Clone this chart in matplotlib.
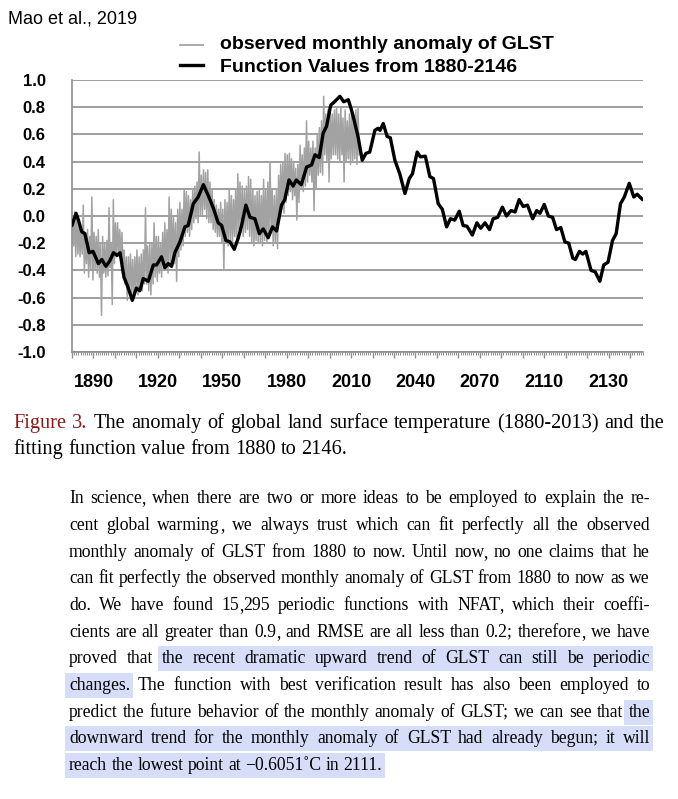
import numpy as np
import matplotlib
matplotlib.use("Agg")
import matplotlib.pyplot as plt
from matplotlib import font_manager
from matplotlib.font_manager import FontProperties
from matplotlib.lines import Line2D
from matplotlib.patches import Rectangle

# ---------------- data ----------------
fit_years = [1880.0, 1881.9, 1883.0, 1884.5, 1886.0, 1888.0, 1889.8, 1892.3, 1893.9, 1895.8,
             1897.6, 1899.3, 1901.0, 1902.4, 1904.2, 1906.0, 1908.1, 1910.0, 1911.6, 1913.2,
             1915.5, 1917.9, 1919.4, 1921.7, 1923.3, 1924.8, 1926.4, 1927.9, 1930.3, 1932.6,
             1934.1, 1936.5, 1938.8, 1941.2, 1943.5, 1945.8, 1948.1, 1949.7, 1951.7, 1953.6,
             1955.6, 1957.5, 1959.0, 1961.0, 1962.9, 1965.2, 1967.3, 1969.1, 1971.4, 1973.4,
             1975.3, 1977.6, 1979.1, 1981.1, 1983.0, 1984.5, 1986.8, 1989.3, 1991.6, 1993.2,
             1995.2, 1997.0, 1998.6, 2000.5, 2002.3, 2004.8, 2006.6, 2008.7, 2010.2, 2011.8,
             2013.3, 2015.2, 2016.9, 2018.7, 2021.1, 2022.6, 2023.5, 2025.0, 2026.8, 2028.3,
             2030.4, 2032.7, 2035.1, 2037.1, 2038.6, 2040.8, 2042.3, 2044.6, 2046.7, 2048.4,
             2050.6, 2052.5, 2054.5, 2056.3, 2058.3, 2060.4, 2062.2, 2064.0, 2066.5, 2068.6,
             2070.4, 2072.4, 2074.5, 2076.2, 2078.3, 2080.5, 2082.4, 2084.5, 2086.4, 2088.3,
             2090.2, 2092.2, 2094.6, 2096.5, 2098.0, 2100.0, 2101.9, 2103.9, 2105.7, 2107.7,
             2109.6, 2111.4, 2113.3, 2114.5, 2116.4, 2117.9, 2119.4, 2121.8, 2123.7, 2125.9,
             2127.7, 2129.7, 2131.8, 2133.5, 2135.5, 2137.3, 2139.6, 2141.7, 2143.3, 2145.8]
fit_values = [-0.07, 0.02, -0.03, -0.115, -0.13, -0.27, -0.26, -0.35, -0.32, -0.37,
              -0.33, -0.27, -0.29, -0.27, -0.45, -0.52, -0.62, -0.53, -0.55, -0.46,
              -0.48, -0.36, -0.36, -0.30, -0.38, -0.35, -0.37, -0.27, -0.19, -0.08,
              -0.07, 0.09, 0.14, 0.23, 0.15, 0.06, -0.05, -0.07, -0.18, -0.19,
              -0.245, -0.16, -0.07, 0.08, -0.01, -0.02, -0.13, -0.095, -0.16, -0.08,
              -0.11, 0.08, 0.12, 0.265, 0.22, 0.265, 0.23, 0.36, 0.375, 0.45,
              0.43, 0.61, 0.66, 0.815, 0.84, 0.88, 0.84, 0.855, 0.78, 0.68,
              0.58, 0.41, 0.46, 0.47, 0.63, 0.645, 0.63, 0.68, 0.585, 0.575,
              0.41, 0.31, 0.165, 0.275, 0.31, 0.47, 0.435, 0.44, 0.29, 0.275,
              0.09, 0.05, -0.08, -0.02, -0.03, 0.035, -0.07, -0.075, -0.14, -0.05,
              -0.09, -0.05, -0.10, -0.02, -0.01, 0.065, 0.0, 0.04, 0.03, 0.12,
              0.07, 0.08, -0.02, 0.04, 0.02, 0.085, 0.0, -0.01, -0.10, -0.085,
              -0.19, -0.20, -0.31, -0.32, -0.26, -0.28, -0.26, -0.40, -0.41, -0.48,
              -0.36, -0.34, -0.18, -0.13, 0.09, 0.14, 0.24, 0.14, 0.16, 0.12]

# observed monthly anomaly: yearly upper / lower swings, 1880..2013
obs_first_year = 1880
obs_high = [-0.02, 0.03, 0.0, -0.05, -0.08, 0.08, -0.12, -0.10, -0.15, 0.14,
            -0.12, -0.15, -0.10, -0.20, -0.15, -0.20, -0.18, 0.06, -0.20, 0.12,
            -0.05, -0.05, -0.10, -0.12, -0.25, -0.30, -0.30, -0.28, -0.32, -0.30,
            -0.25, -0.30, -0.28, -0.25, 0.06, -0.22, -0.20, -0.20, -0.05, -0.15,
            -0.15, -0.20, -0.12, -0.05, -0.10, 0.14, 0.05, 0.0, -0.05, 0.05,
            0.10, 0.05, 0.20, 0.18, 0.15, 0.12, 0.20, 0.22, 0.25, 0.47,
            0.30, 0.34, 0.32, 0.34, 0.25, 0.20, 0.12, 0.08, 0.05, 0.10,
            0.05, 0.12, 0.10, 0.20, 0.15, 0.12, 0.20, 0.31, 0.25, 0.22,
            0.20, 0.22, 0.29, 0.27, 0.20, 0.15, 0.18, 0.20, 0.15, 0.27,
            0.20, 0.25, 0.40, 0.20, 0.15, 0.20, 0.30, 0.38, 0.40, 0.46,
            0.45, 0.46, 0.42, 0.40, 0.35, 0.38, 0.52, 0.45, 0.50, 0.70,
            0.55, 0.50, 0.55, 0.50, 0.60, 0.65, 0.70, 0.88, 0.75, 0.78,
            0.80, 0.75, 0.78, 0.80, 0.75, 0.80, 0.72, 0.78, 0.70, 0.75,
            0.78, 0.75, 0.78, 0.80]
obs_low = [-0.22, -0.30, -0.28, -0.30, -0.28, -0.42, -0.35, -0.45, -0.40, -0.47,
           -0.40, -0.42, -0.45, -0.73, -0.42, -0.45, -0.44, -0.38, -0.65, -0.35,
           -0.30, -0.28, -0.32, -0.35, -0.50, -0.62, -0.55, -0.58, -0.60, -0.55,
           -0.58, -0.55, -0.55, -0.50, -0.50, -0.55, -0.58, -0.50, -0.45, -0.48,
           -0.42, -0.45, -0.40, -0.38, -0.42, -0.36, -0.35, -0.35, -0.48, -0.30,
           -0.25, -0.22, -0.15, -0.12, -0.15, -0.10, -0.05, -0.02, -0.05, 0.0,
           0.0, 0.05, -0.02, -0.05, -0.05, -0.10, -0.12, -0.15, -0.15, -0.20,
           -0.39, -0.20, -0.22, -0.18, -0.20, -0.15, -0.20, -0.10, -0.12, -0.15,
           -0.12, -0.10, -0.15, -0.20, -0.22, -0.18, -0.20, -0.20, -0.22, -0.18,
           -0.20, -0.15, -0.10, -0.22, -0.20, -0.24, 0.0, 0.05, 0.02, 0.10,
           0.15, 0.18, 0.12, 0.15, -0.03, 0.10, 0.20, 0.18, 0.22, 0.25,
           0.30, 0.25, 0.04, 0.20, 0.30, 0.32, 0.30, 0.45, 0.40, 0.25,
           0.42, 0.45, 0.45, 0.42, 0.40, 0.45, 0.25, 0.40, 0.42, 0.38,
           0.40, 0.42, 0.38, 0.45]

series_labels = ["observed monthly anomaly of GLST", "Function Values from 1880-2146"]
y_ticks = [1.0, 0.8, 0.6, 0.4, 0.2, 0.0, -0.2, -0.4, -0.6, -0.8, -1.0]
y_tick_labels = ["1.0", "0.8", "0.6", "0.4", "0.2", "0.0", "-0.2", "-0.4", "-0.6", "-0.8", "-1.0"]
x_label_years = [1890, 1920, 1950, 1980, 2010, 2040, 2070, 2100, 2130]
x_label_texts = ["1890", "1920", "1950", "1980", "2010", "2040", "2070", "2110", "2130"]

source_text = "Mao et al., 2019"
caption_lines = ["Figure 3. The anomaly of global land surface temperature (1880-2013) and the",
                 "fitting function value from 1880 to 2146."]
caption_red_words = 2
body_lines = [
    "In science, when there are two or more ideas to be employed to explain the re-",
    "cent global warming, we always trust which can fit perfectly all the observed",
    "monthly anomaly of GLST from 1880 to now. Until now, no one claims that he",
    "can fit perfectly the observed monthly anomaly of GLST from 1880 to now as we",
    "do. We have found 15,295 periodic functions with NFAT, which their coeffi-",
    "cients are all greater than 0.9, and RMSE are all less than 0.2; therefore, we have",
    "proved that the recent dramatic upward trend of GLST can still be periodic",
    "changes. The function with best verification result has also been employed to",
    "predict the future behavior of the monthly anomaly of GLST; we can see that the",
    "downward trend for the monthly anomaly of GLST had already begun; it will",
    "reach the lowest point at \u22120.6051\u02daC in 2111.",
]
# (line index, first highlighted word, last highlighted word; -1 = last word)
highlights = [(6, 2, -1), (7, 0, 0), (8, -1, -1), (9, 0, -1), (10, 0, -1)]

# ---------------- fonts ----------------
available = {f.name for f in font_manager.fontManager.ttflist}
def pick(*names):
    for n in names:
        if n in available:
            return n
    return "DejaVu Sans"
SANS = pick("Liberation Sans", "Arial", "DejaVu Sans")
SERIF = pick("Liberation Serif", "DejaVu Serif")

W, H, DPI = 678, 799, 100
fig = plt.figure(figsize=(W / DPI, H / DPI), dpi=DPI)
fig.patch.set_facecolor("white")
renderer = fig.canvas.get_renderer()

def tw(s, fp):
    return renderer.get_text_width_height_descent(s, fp, ismath=False)[0]

def fx(px):
    return px / W

def fy(py):
    return 1 - py / H

# ---------------- chart ----------------
ax = fig.add_axes([fx(72), fy(352), (643 - 72) / W, (352 - 80) / H])
ax.set_xlim(1880, 2146)
ax.set_ylim(-1, 1)

obs_x, obs_y = [], []
for i, (hi, lo) in enumerate(zip(obs_high, obs_low)):
    yr = obs_first_year + i
    obs_x += [yr + 0.25, yr + 0.75]
    obs_y += [hi, lo]
grey = "#a2a2a2"
ax.plot(obs_x, obs_y, color=grey, lw=1.1, zorder=2)
ax.plot(fit_years, fit_values, color="black", lw=2.4, zorder=3,
        solid_joinstyle="round", solid_capstyle="round")

gridc = "#8e8e8e"
ax.set_yticks(y_ticks)
ax.set_yticklabels(y_tick_labels)
ax.yaxis.grid(True, color=gridc, lw=1.2)
ax.set_axisbelow(True)
for s in ["top", "right"]:
    ax.spines[s].set_visible(False)
for s in ["left", "bottom"]:
    ax.spines[s].set_color(gridc)
    ax.spines[s].set_linewidth(1.2)

major = list(range(1880, 2147, 10))
lab_map = dict(zip(x_label_years, x_label_texts))
ax.set_xticks(major)
ax.set_xticklabels([lab_map.get(y, "") for y in major])
ax.set_xticks(np.arange(1880, 2147, 1), minor=True)
ax.tick_params(axis="x", which="major", length=4, width=1.0, color=gridc, pad=12)
ax.tick_params(axis="x", which="minor", length=2, width=0.7, color=gridc)
ax.tick_params(axis="y", length=0, pad=19)
fp_xt = FontProperties(family=SANS, weight="bold", size=13)
fp_yt = FontProperties(family=SANS, weight="bold", size=12)
for t in ax.get_xticklabels():
    t.set_fontproperties(fp_xt)
for t in ax.get_yticklabels():
    t.set_fontproperties(fp_yt)

# legend (manual)
fp_leg = FontProperties(family=SANS, weight="bold", size=14)
for (lab, col, lw, ly, base) in [(series_labels[0], grey, 1.3, 45, 49),
                                 (series_labels[1], "black", 2.4, 64.5, 72)]:
    fig.add_artist(Line2D([fx(180), fx(203)], [fy(ly)] * 2, color=col, lw=lw))
    fig.text(fx(220), fy(base), lab, fontproperties=fp_leg, color="black", va="baseline")

fp_src = FontProperties(family=SANS, size=13)
fig.text(fx(8), fy(23), source_text, fontproperties=fp_src, va="baseline")

# ---------------- justified text helper ----------------
def layout_words(words, fp, x0, x1, justify):
    widths = [tw(w, fp) for w in words]
    space = tw("a a", fp) - tw("aa", fp)
    if justify and len(words) > 1:
        gap = (x1 - x0 - sum(widths)) / (len(words) - 1)
    else:
        gap = space
    xs, x = [], x0
    for w in widths:
        xs.append(x)
        x += w + gap
    return xs, widths

def draw_word(word, x, base, fp, color, z=2):
    # commas drawn as separate pieces so they do not shift the letters' baseline
    pieces, cur = [], ""
    for ch in word:
        if ch == ",":
            if cur:
                pieces.append(cur)
            pieces.append(ch)
            cur = ""
        else:
            cur += ch
    if cur:
        pieces.append(cur)
    for i, p in enumerate(pieces):
        if i == 0:
            fig.text(fx(x), fy(base), p, fontproperties=fp, color=color,
                     va="baseline", ha="left", zorder=z)
        else:
            right = x + tw("".join(pieces[:i + 1]), fp)
            fig.text(fx(right), fy(base), p, fontproperties=fp, color=color,
                     va="baseline", ha="right", zorder=z)

# caption
cap_x0, cap_x1 = 13, 665
probe = FontProperties(family=SERIF, size=10)
cap_size = 10 * (cap_x1 - cap_x0) * 0.985 / tw(caption_lines[0], probe)
fp_cap = FontProperties(family=SERIF, size=cap_size)
for li, (line, base) in enumerate(zip(caption_lines, [428, 454])):
    words = line.split(" ")
    xs, ws = layout_words(words, fp_cap, cap_x0, cap_x1, justify=(li == 0))
    for wi, (w, x) in enumerate(zip(words, xs)):
        col = "#8c1a1a" if (li == 0 and wi < caption_red_words) else "black"
        draw_word(w, x, base, fp_cap, col)

# body
body_x0, body_x1 = 69, 650
longest = max(tw(l, probe) for l in body_lines[:-1])
body_size = 10 * (body_x1 - body_x0) * 0.995 / longest
fp_body = FontProperties(family=SERIF, size=body_size)
base0, step = 503.5, 26.65
hl_color = "#d5ddf8"
for li, line in enumerate(body_lines):
    words = line.split(" ")
    base = base0 + step * li
    xs, ws = layout_words(words, fp_body, body_x0, body_x1, justify=(li < len(body_lines) - 1))
    for (hli, a, b) in highlights:
        if hli == li:
            a = a % len(words)
            b = b % len(words)
            left = xs[a] - 4
            right = xs[b] + ws[b] + 3
            fig.add_artist(Rectangle((fx(left), fy(base + 8)), (right - left) / W, 25 / H,
                                     transform=fig.transFigure, facecolor=hl_color,
                                     edgecolor="none", zorder=0))
    for w, x in zip(words, xs):
        draw_word(w, x, base, fp_body, "black")

fig.savefig("out.png", dpi=DPI, facecolor="white")
